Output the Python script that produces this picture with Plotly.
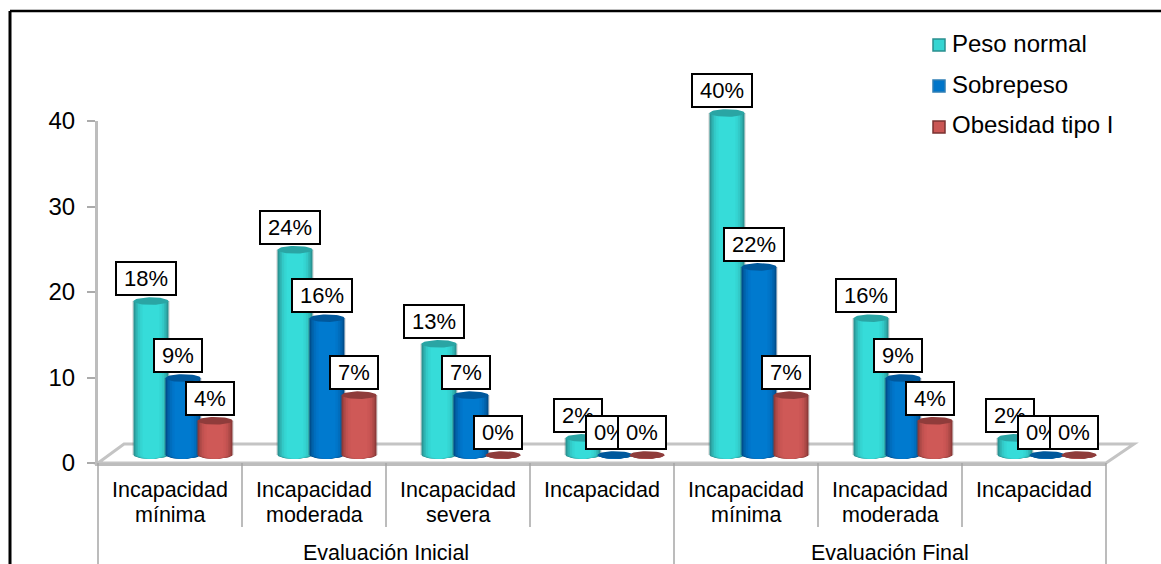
import numpy as np
import plotly.graph_objects as go

W, H = 1161, 564

# Chart data
categories = ["Incapacidad mínima", "Incapacidad moderada", "Incapacidad severa", "Incapacidad",
              "Incapacidad mínima", "Incapacidad moderada", "Incapacidad"]
group_labels = ["Evaluación Inicial", "Evaluación Final"]
series_names = ["Peso normal", "Sobrepeso", "Obesidad tipo I"]
peso_normal = [18, 24, 13, 2, 40, 16, 2]
sobrepeso = [9, 16, 7, 0, 22, 9, 0]
obesidad = [4, 7, 0, 0, 7, 4, 0]
y_ticks = [0, 10, 20, 30, 40]

# Cylinder shading, from the outer edge to the central highlight, and the cap colour
teal_shades = ["#2A8F8E", "#2DA6A5", "#30BAB8", "#33CAC8", "#35D5D2", "#36DCD9"]
blue_shades = ["#004B87", "#005A9E", "#0065B0", "#006EBE", "#0075C9", "#007ACF"]
red_shades = ["#883837", "#A04341", "#B34C4A", "#C15250", "#CA5654", "#CF5957"]
caps = ["#2AA5A4", "#00589C", "#8F3C3B"]
swatch_edges = ["#2A8F8E", "#2F7FB5", "#7A3231"]

series_values = [peso_normal, sobrepeso, obesidad]
series_shades = [teal_shades, blue_shades, red_shades]

# Layout geometry in pixels
LEFT, RIGHT = 98, 1106
AXIS_ZERO, AXIS_TOP = 463, 121
BAR_ZERO = 455
UNIT_PX = (AXIS_ZERO - AXIS_TOP) / 40
CAT_PX = (RIGHT - LEFT) / 7
BAR_PX = 35
CAP_PX = 3.8
SERIES_OFFSET_PX = [-19, 13, 45]
LAYER_WIDTHS = [1.0, 0.93, 0.84, 0.74, 0.62, 0.48]


def px(x):
    return x / W


def py(y):
    return 1 - y / H


BAR_LOW, BAR_HIGH = -2, 42

fig = go.Figure()
# Keeps the front value axis on its own subplot; the cylinders stand further back on y2
fig.add_trace(go.Scatter(x=[0, 6], y=[y_ticks[0], y_ticks[-1]], mode="none", hoverinfo="skip", showlegend=False))

centres = []
for k, (name, vals, shades) in enumerate(zip(series_names, series_values, series_shades)):
    xs = [i + SERIES_OFFSET_PX[k] / CAT_PX for i in range(len(vals))]
    centres.append(xs)
    # Soft halo just outside each cylinder
    fig.add_trace(go.Bar(x=xs, y=vals, width=(BAR_PX + 3) / CAT_PX, yaxis="y2", name=name, hoverinfo="skip",
                         marker=dict(color="rgba(70,70,70,0.14)", line=dict(width=0)), showlegend=False))
    for frac, colour in zip(LAYER_WIDTHS, shades):
        fig.add_trace(go.Bar(x=xs, y=vals, width=BAR_PX * frac / CAT_PX, yaxis="y2", name=name,
                             marker=dict(color=colour, line=dict(width=0)), showlegend=False))


def ellipse_path(xs, ys, half_w, half_h, t):
    ex, ey = [], []
    for x0, y0 in zip(xs, ys):
        ex += list(x0 + half_w * np.cos(t)) + [None]
        ey += list(y0 + half_h * np.sin(t)) + [None]
    return ex, ey


half_h = CAP_PX / UNIT_PX
lower = np.linspace(np.pi, 2 * np.pi, 30)
full = np.linspace(0, 2 * np.pi, 50)
for k, (name, vals, shades) in enumerate(zip(series_names, series_values, series_shades)):
    xs = centres[k]
    # Rounded foot of each cylinder, shaded like its body
    for frac, colour in zip(LAYER_WIDTHS, shades):
        ex, ey = ellipse_path(xs, [0] * len(xs), BAR_PX * frac / 2 / CAT_PX, half_h, lower)
        fig.add_trace(go.Scatter(x=ex, y=ey, yaxis="y2", mode="lines", fill="toself", fillcolor=colour,
                                 line=dict(width=0), hoverinfo="skip", showlegend=False))
    # Flat top of each cylinder
    ex, ey = ellipse_path(xs, vals, BAR_PX / 2 / CAT_PX, half_h, full)
    fig.add_trace(go.Scatter(x=ex, y=ey, yaxis="y2", mode="lines", fill="toself", fillcolor=caps[k],
                             line=dict(width=0), hoverinfo="skip", showlegend=False))

shapes = []
# Chart frame
shapes.append(dict(type="line", xref="paper", yref="paper", x0=px(10), x1=1, y0=py(11), y1=py(11),
                   line=dict(color="#000000", width=2.5)))
shapes.append(dict(type="line", xref="paper", yref="paper", x0=px(10), x1=px(10), y0=py(11), y1=0,
                   line=dict(color="#000000", width=3)))
# Floor of the 3D box
floor = [(LEFT, AXIS_ZERO), (RIGHT, AXIS_ZERO), (RIGHT + 28, 444), (LEFT + 26, 444)]
path = "M" + " L".join(f"{px(a)},{py(b)}" for a, b in floor) + " Z"
shapes.append(dict(type="path", xref="paper", yref="paper", path=path, layer="below",
                   fillcolor="#FFFFFF", line=dict(color="#C4C4C4", width=3)))
# Dividers under the axis
for i in range(1, 7):
    if i != 4:
        shapes.append(dict(type="line", xref="paper", yref="paper",
                           x0=px(LEFT + i * CAT_PX), x1=px(LEFT + i * CAT_PX), y0=py(AXIS_ZERO), y1=py(527),
                           line=dict(color="#A6A6A6", width=1.5)))
for i in (0, 4, 7):
    shapes.append(dict(type="line", xref="paper", yref="paper",
                       x0=px(LEFT + i * CAT_PX), x1=px(LEFT + i * CAT_PX), y0=py(AXIS_ZERO), y1=0,
                       line=dict(color="#A6A6A6", width=1.5)))

annotations = []
# Second line of the category labels
for i, label in enumerate(categories):
    words = label.split(" ")
    if len(words) > 1:
        annotations.append(dict(text=words[1], x=i, xref="x", y=py(515), yref="paper", yanchor="middle",
                                showarrow=False, font=dict(size=21.5, color="#000000")))
# Group labels
annotations.append(dict(text=group_labels[0], x=1.5, xref="x", y=py(553), yref="paper", yanchor="middle",
                        showarrow=False, font=dict(size=21.5, color="#000000")))
annotations.append(dict(text=group_labels[1], x=5, xref="x", y=py(553), yref="paper", yanchor="middle",
                        showarrow=False, font=dict(size=21.5, color="#000000")))
# Value labels, drawn series by series so later boxes sit on top
for k, vals in enumerate(series_values):
    for i, v in enumerate(vals):
        text = f"{v}%"
        annotations.append(dict(text=text, x=centres[k][i], xref="x", y=v, yref="y2", yanchor="bottom",
                                xanchor="center", xshift=-5, yshift=5, showarrow=False,
                                width=58 if v >= 10 else 46, height=31, align="center",
                                bgcolor="#FFFFFF", bordercolor="#000000", borderwidth=2, borderpad=0,
                                font=dict(size=22, color="#000000")))
# Key
key_rows = [44, 85, 126]
for name, row, shades, edge in zip(series_names, key_rows, series_shades, swatch_edges):
    shapes.append(dict(type="rect", xref="paper", yref="paper", x0=px(933), x1=px(945),
                       y0=py(row + 7), y1=py(row - 5), fillcolor=shades[4], line=dict(color=edge, width=1.5)))
    annotations.append(dict(text=name, x=px(950), xref="paper", y=py(row - 1), yref="paper", xanchor="left",
                            yanchor="middle", showarrow=False, font=dict(size=24, color="#000000")))

fig.update_layout(
    width=W, height=H,
    margin=dict(l=0, r=0, t=0, b=0, autoexpand=False),
    barmode="overlay",
    showlegend=False,
    paper_bgcolor="#FFFFFF",
    plot_bgcolor="rgba(0,0,0,0)",
    font=dict(family="Liberation Sans, Arial, sans-serif", color="#000000"),
    shapes=shapes,
    annotations=annotations,
    xaxis=dict(domain=[px(LEFT), px(RIGHT)], range=[-0.5, 6.5], anchor="y", automargin=False,
               tickmode="array", tickvals=list(range(7)), ticktext=[c.split(" ")[0] for c in categories],
               tickfont=dict(size=21.5), ticks="", ticklabelstandoff=5,
               showline=True, linecolor="#BDBDBD", linewidth=3, showgrid=False, zeroline=False),
    yaxis=dict(domain=[py(AXIS_ZERO), py(AXIS_TOP)], range=[y_ticks[0], y_ticks[-1]], anchor="x", automargin=False,
               tickmode="array", tickvals=y_ticks, tickfont=dict(size=24),
               ticks="outside", ticklen=8, tickcolor="#ABABAB", tickwidth=2, ticklabelstandoff=7,
               showline=True, linecolor="#BDBDBD", linewidth=3, showgrid=False, zeroline=False),
    yaxis2=dict(domain=[py(BAR_ZERO - BAR_LOW * UNIT_PX), py(BAR_ZERO - BAR_HIGH * UNIT_PX)], automargin=False,
                range=[BAR_LOW, BAR_HIGH], anchor="x", visible=False, showgrid=False, zeroline=False),
)

fig.write_html("out.html")
